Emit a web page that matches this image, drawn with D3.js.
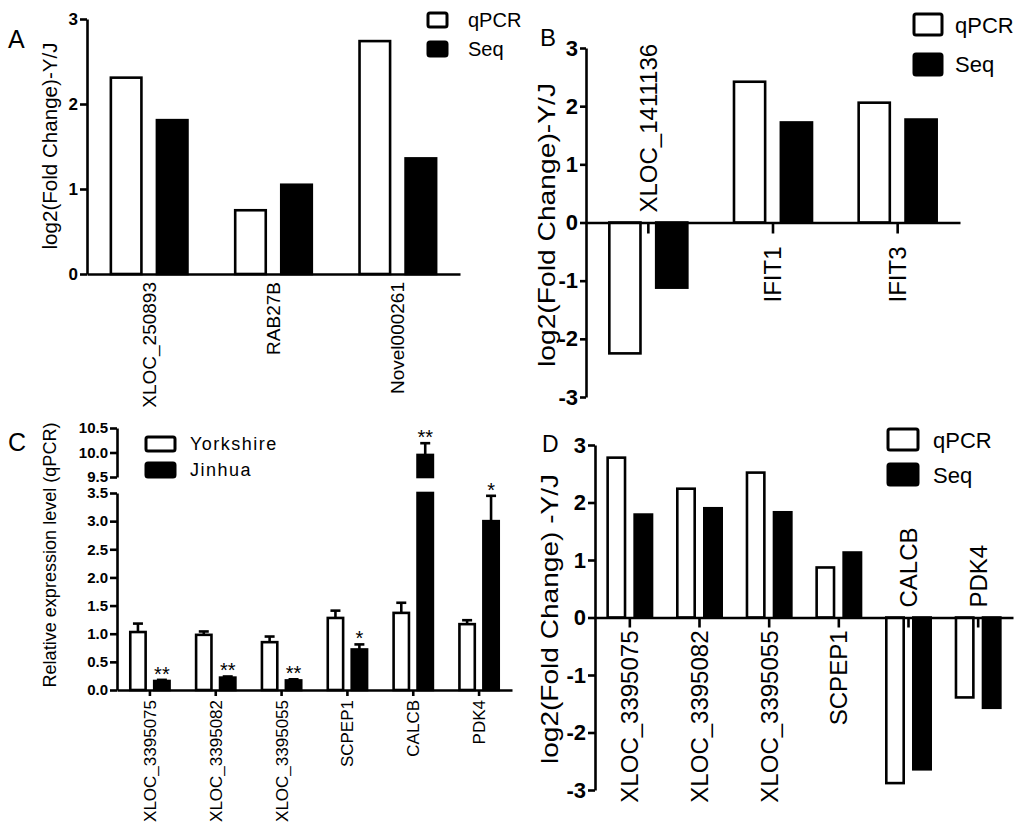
<!DOCTYPE html>
<html>
<head>
<meta charset="utf-8">
<script src="https://cdn.jsdelivr.net/npm/d3@7"></script>
<style>
  body { margin: 0; background: #fff; }
  svg { display: block; font-family: "Liberation Sans", Arial, sans-serif; }
</style>
</head>
<body>
<div id="wrapper"></div>
<script>
// ---- data ----
const seriesFold = ["qPCR", "Seq"]
const seriesBreed = ["Yorkshire", "Jinhua"]

const genesA = ["XLOC_250893", "RAB27B", "Novel000261"]
const qpcrA = [2.31, 0.75, 2.74]
const seqA = [1.81, 1.05, 1.36]
const ticksA = [0, 1, 2, 3]

const genesB = ["XLOC_1411136", "IFIT1", "IFIT3"]
const qpcrB = [-2.25, 2.42, 2.06]
const seqB = [-1.12, 1.72, 1.77]

const genesC = ["XLOC_3395075", "XLOC_3395082", "XLOC_3395055", "SCPEP1", "CALCB", "PDK4"]
const yorkshire = [1.03, 0.98, 0.85, 1.28, 1.37, 1.17]
const yorkshireErr = [0.15, 0.06, 0.10, 0.13, 0.18, 0.07]
const jinhua = [0.16, 0.22, 0.17, 0.72, 9.95, 3.0]
const jinhuaErr = [0.02, 0.02, 0.02, 0.09, 0.24, 0.45]
const signif = ["**", "**", "**", "*", "**", "*"]
const ticksCLow = [0, 0.5, 1, 1.5, 2, 2.5, 3, 3.5]
const ticksCHigh = [9.5, 10, 10.5]

const genesD = ["XLOC_3395075", "XLOC_3395082", "XLOC_3395055", "SCPEP1", "CALCB", "PDK4"]
const qpcrD = [2.78, 2.24, 2.52, 0.87, -2.88, -1.39]
const seqD = [1.79, 1.90, 1.83, 1.13, -2.64, -1.57]
const ticksFold = [-3, -2, -1, 0, 1, 2, 3]

const svg = d3.select("#wrapper")
  .append("svg")
    .attr("width", 1024)
    .attr("height", 832)

const SW = 2.6
const intFmt = d => String(d)   // plain hyphen minus like the original

// generic grouped bar panel (A, B, D)
function foldPanel(cfg) {
  const g = svg.append("g")
  const rows = cfg.genes.map((d, i) => ({gene: d, values: [cfg.s1[i], cfg.s2[i]]}))

  const x0 = d3.scaleBand().domain(cfg.genes).range(cfg.xRange)
  const x1 = d3.scaleBand().domain(seriesFold).range([0, x0.bandwidth()])
    .paddingInner(cfg.pi).paddingOuter(cfg.po)
  const y = d3.scaleLinear().domain(cfg.yDomain).range(cfg.yRange)

  // bars
  g.selectAll("g.grp").data(rows).join("g")
      .attr("transform", d => `translate(${x0(d.gene)},0)`)
    .selectAll("rect").data(d => d.values.map((v, k) => ({k, v}))).join("rect")
      .attr("x", d => x1(seriesFold[d.k]) + SW / 2)
      .attr("width", x1.bandwidth() - SW)
      .attr("y", d => Math.min(y(d.v), y(0)))
      .attr("height", d => Math.abs(y(d.v) - y(0)))
      .attr("fill", d => d.k === 0 ? "#fff" : "#000")
      .attr("stroke", "#000")
      .attr("stroke-width", SW)

  // y axis
  const yAxis = g.append("g")
    .attr("transform", `translate(${cfg.xRange[0]},0)`)
    .call(d3.axisLeft(y).tickValues(cfg.yTicks).tickFormat(intFmt)
      .tickSize(cfg.yTickSize).tickSizeOuter(0).tickPadding(2))
  yAxis.select(".domain").attr("stroke-width", SW)
  yAxis.selectAll(".tick line").attr("stroke-width", SW)
  yAxis.selectAll(".tick text")
    .attr("font-size", cfg.yTickFont)
    .attr("font-weight", "bold")
    .attr("font-family", "'Liberation Sans', Arial, sans-serif")
    .attr("fill", "#000")

  // x axis
  const xAxis = g.append("g")
    .attr("transform", `translate(0,${y(0)})`)
    .call(d3.axisBottom(x0).tickSize(cfg.xTickSize).tickSizeOuter(0))
  xAxis.select(".domain").attr("stroke-width", SW)
  xAxis.selectAll(".tick line").attr("stroke-width", SW)
  xAxis.selectAll(".tick text")
    .attr("font-size", cfg.labelFont)
    .attr("font-family", "'Liberation Sans', Arial, sans-serif")
    .attr("fill", "#000")
    .attr("transform", "rotate(-90)")
    .attr("y", 0)
    .attr("dy", "0.35em")
    .attr("x", (d, i) => rows[i].values[0] < 0 ? cfg.labelAbove : -cfg.labelBelow)
    .attr("text-anchor", (d, i) => rows[i].values[0] < 0 ? "start" : "end")

  // y title
  g.append("text")
    .attr("transform", `translate(${cfg.titleX},${cfg.titleY}) rotate(-90)`)
    .attr("text-anchor", "middle")
    .attr("dy", "0.35em")
    .attr("font-size", cfg.titleFont)
    .attr("textLength", cfg.titleLen)
    .attr("lengthAdjust", "spacingAndGlyphs")
    .text(cfg.title)

  legend(cfg.legend, seriesFold)
  panelLetter(cfg.letter)
}

function legend(L, names) {
  const lg = svg.append("g")
  names.forEach((n, i) => {
    lg.append("rect")
      .attr("x", L.x).attr("y", L.ys[i])
      .attr("width", L.w).attr("height", L.h)
      .attr("rx", 2)
      .attr("fill", i === 0 ? "#fff" : "#000")
      .attr("stroke", "#000").attr("stroke-width", 3)
    lg.append("text")
      .attr("x", L.tx).attr("y", L.bases[i])
      .attr("font-size", L.font)
      .attr("letter-spacing", L.ls || 0)
      .text(n)
  })
}

function panelLetter(p) {
  svg.append("text").attr("x", p.x).attr("y", p.y).attr("font-size", p.font).text(p.t)
}

// ---- panel A ----
foldPanel({
  genes: genesA, s1: qpcrA, s2: seqA,
  xRange: [87, 460], pi: 0.28, po: 0.49,
  yDomain: [0, 3], yRange: [274, 19], yTicks: ticksA, yTickSize: 7, yTickFont: 17,
  xTickSize: 0, labelFont: 19, labelBelow: 8, labelAbove: 8,
  title: "log2(Fold Change)-Y/J", titleX: 50, titleY: 146, titleFont: 20, titleLen: 207,
  legend: {x: 428, ys: [13, 42], w: 19, h: 14, tx: 468, bases: [27, 56], font: 20},
  letter: {t: "A", x: 8, y: 48, font: 25}
})

// ---- panel B ----
foldPanel({
  genes: genesB, s1: qpcrB, s2: seqB,
  xRange: [586, 960], pi: 0.28, po: 0.47,
  yDomain: [-3, 3], yRange: [397, 48], yTicks: ticksFold, yTickSize: 6, yTickFont: 22,
  xTickSize: 11, labelFont: 24, labelBelow: 24, labelAbove: 10,
  title: "log2(Fold Change)-Y/J", titleX: 547, titleY: 225, titleFont: 24, titleLen: 284,
  legend: {x: 914, ys: [14, 54], w: 28, h: 21, tx: 955, bases: [33, 72], font: 22},
  letter: {t: "B", x: 540, y: 46, font: 24}
})

// ---- panel D ----
foldPanel({
  genes: genesD, s1: qpcrD, s2: seqD,
  xRange: [595, 1013], pi: 0.26, po: 0.42,
  yDomain: [-3, 3], yRange: [790, 445], yTicks: ticksFold, yTickSize: 7, yTickFont: 22,
  xTickSize: 10, labelFont: 24, labelBelow: 13, labelAbove: 10,
  title: "log2(Fold Change) -Y/J", titleX: 550, titleY: 619, titleFont: 24, titleLen: 290,
  legend: {x: 888, ys: [429, 464], w: 30, h: 21, tx: 933, bases: [448, 483], font: 22},
  letter: {t: "D", x: 542, y: 452, font: 23}
})

// ---- panel C (broken y axis) ----
{
  const g = svg.append("g")
  const x0 = d3.scaleBand().domain(genesC).range([117, 512])
  const x1 = d3.scaleBand().domain(seriesBreed).range([0, x0.bandwidth()])
    .paddingInner(0.25).paddingOuter(0.5)
  const yLow = d3.scaleLinear().domain([0, 3.5]).range([690, 493])
  const yHigh = d3.scaleLinear().domain([9.5, 10.5]).range([477, 428])
  const top = yLow.domain()[1]
  const scaleFor = v => v > top ? yHigh : yLow

  const rows = genesC.map((gene, i) => ({
    gene,
    bars: [
      {k: 0, v: yorkshire[i], e: yorkshireErr[i]},
      {k: 1, v: jinhua[i], e: jinhuaErr[i], s: signif[i]}
    ]
  }))

  const grp = g.selectAll("g.grp").data(rows).join("g")
    .attr("transform", d => `translate(${x0(d.gene)},0)`)

  grp.each(function(d) {
    const gg = d3.select(this)
    d.bars.forEach(b => {
      const bx = x1(seriesBreed[b.k])
      const bw = x1.bandwidth()
      const segs = b.v > top ? [[yLow, 0, top], [yHigh, 9.5, b.v]] : [[yLow, 0, b.v]]
      segs.forEach(([sc, a, c]) => {
        gg.append("rect")
          .attr("x", bx + SW / 2).attr("width", bw - SW)
          .attr("y", sc(c)).attr("height", sc(a) - sc(c))
          .attr("fill", b.k === 0 ? "#fff" : "#000")
          .attr("stroke", "#000").attr("stroke-width", SW)
      })
      const sc = scaleFor(b.v)
      const cx = bx + bw / 2
      gg.append("line")
        .attr("x1", cx).attr("x2", cx)
        .attr("y1", sc(b.v)).attr("y2", sc(b.v + b.e))
        .attr("stroke", "#000").attr("stroke-width", SW)
      gg.append("line")
        .attr("x1", cx - 5).attr("x2", cx + 5)
        .attr("y1", sc(b.v + b.e)).attr("y2", sc(b.v + b.e))
        .attr("stroke", "#000").attr("stroke-width", SW)
      if (b.s) {
        gg.append("text")
          .attr("x", cx).attr("y", sc(b.v + b.e) + 1)
          .attr("text-anchor", "middle")
          .attr("font-size", 20)
          .text(b.s)
      }
    })
  })

  const styleY = ax => {
    ax.select(".domain").attr("stroke-width", SW)
    ax.selectAll(".tick line").attr("stroke-width", SW)
    ax.selectAll(".tick text")
      .attr("font-size", 15).attr("font-weight", "bold")
      .attr("font-family", "'Liberation Sans', Arial, sans-serif")
      .attr("fill", "#000")
  }
  g.append("g").attr("transform", "translate(117,0)")
    .call(d3.axisLeft(yLow).tickValues(ticksCLow).tickFormat(d3.format(".1f")).tickSize(7).tickSizeOuter(0).tickPadding(2))
    .call(styleY)
  g.append("g").attr("transform", "translate(117,0)")
    .call(d3.axisLeft(yHigh).tickValues(ticksCHigh).tickFormat(d3.format(".1f")).tickSize(7).tickSizeOuter(0).tickPadding(2))
    .call(styleY)

  const xAxis = g.append("g").attr("transform", `translate(0,${yLow(0)})`)
    .call(d3.axisBottom(x0).tickSize(6).tickSizeOuter(0))
  xAxis.select(".domain").attr("stroke-width", SW)
  xAxis.selectAll(".tick line").attr("stroke-width", SW)
  xAxis.selectAll(".tick text")
    .attr("font-size", 17)
    .attr("font-family", "'Liberation Sans', Arial, sans-serif")
    .attr("fill", "#000")
    .attr("transform", "rotate(-90)")
    .attr("y", 0).attr("dy", "0.35em")
    .attr("x", -10)
    .attr("text-anchor", "end")

  g.append("text")
    .attr("transform", "translate(49,555) rotate(-90)")
    .attr("text-anchor", "middle").attr("dy", "0.35em")
    .attr("font-size", 19)
    .attr("textLength", 265).attr("lengthAdjust", "spacingAndGlyphs")
    .text("Relative expression level (qPCR)")

  legend({x: 146, ys: [437, 463], w: 29, h: 14, tx: 190, bases: [450, 476], font: 18, ls: 1.5}, seriesBreed)
  panelLetter({t: "C", x: 8, y: 451, font: 25})
}
</script>
</body>
</html>
